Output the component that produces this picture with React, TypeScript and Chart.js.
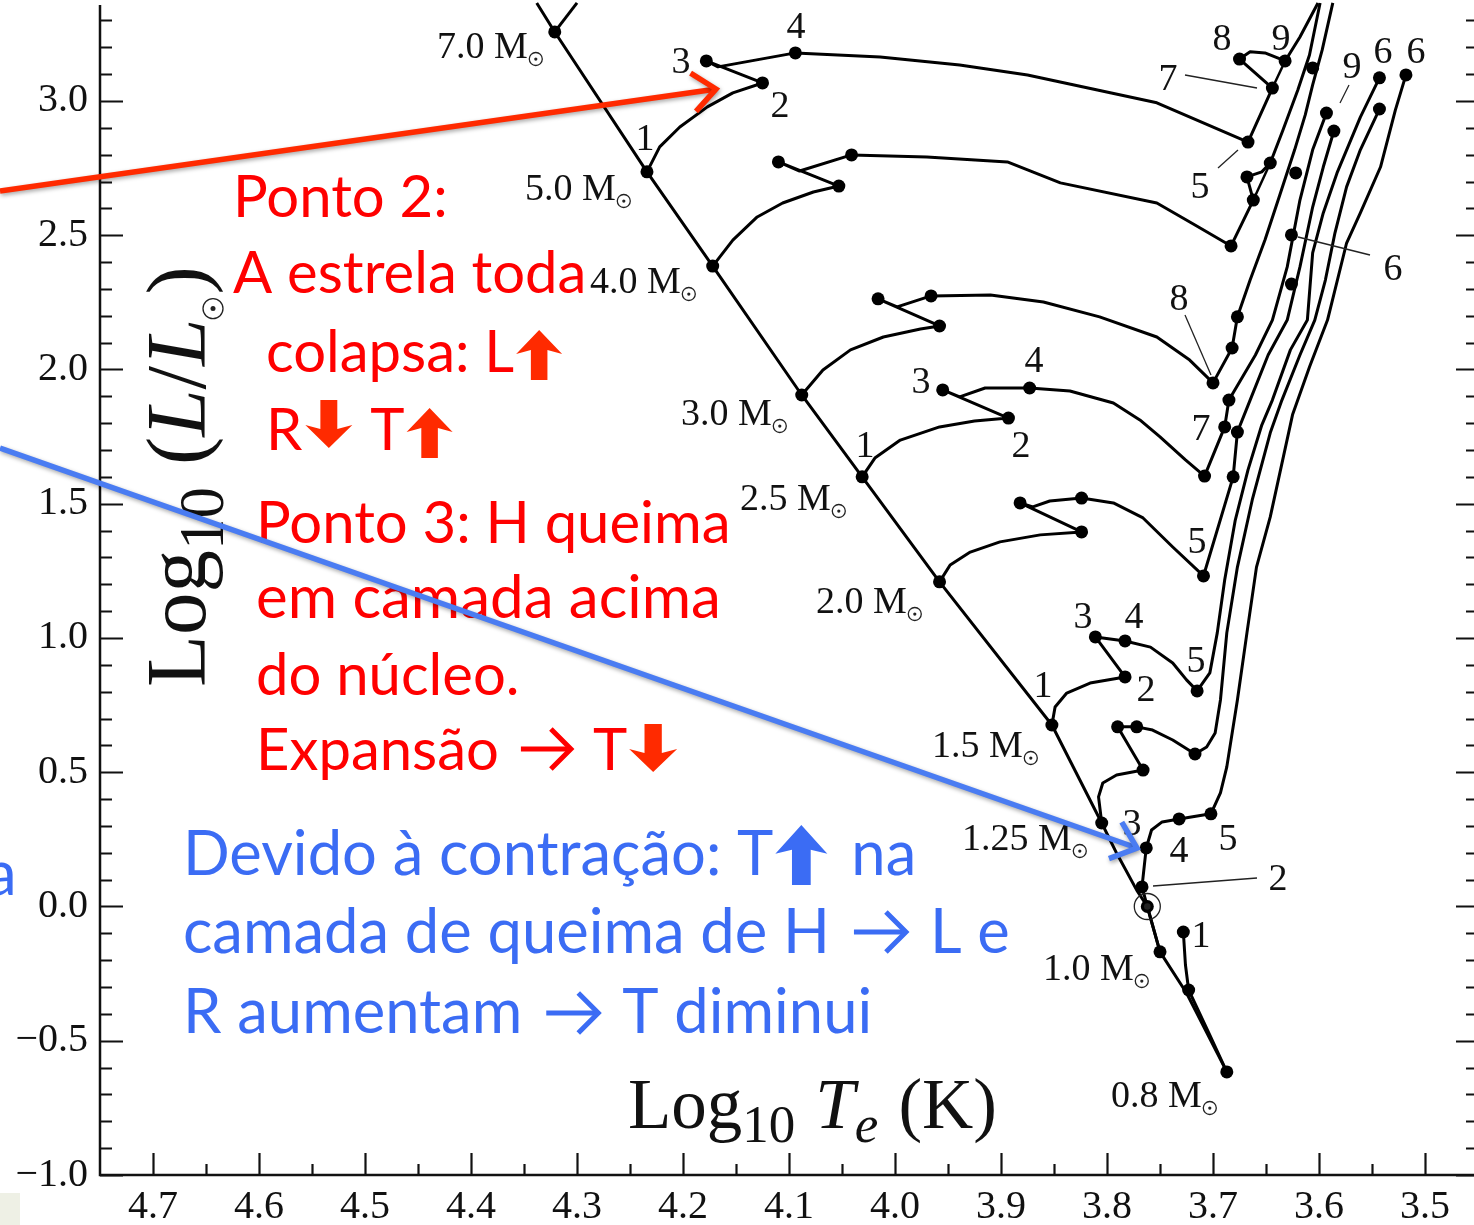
import React, { useEffect, useRef } from "react";
import { Chart, registerables } from "chart.js";

Chart.register(...registerables);

// ---------- axes ----------
const X_MIN = 3.4538;
const X_MAX = 4.75;
const Y_MIN = -1.0;
const Y_MAX = 3.376;
const X_TICKS = [3.5, 3.6, 3.7, 3.8, 3.9, 4.0, 4.1, 4.2, 4.3, 4.4, 4.5, 4.6, 4.7];
const Y_TICKS = [-1.0, -0.5, 0.0, 0.5, 1.0, 1.5, 2.0, 2.5, 3.0];

// ---------- evolutionary tracks (log Te, log L/Lsun) ----------
const zamsT = [4.338, 4.321, 4.234, 4.172, 4.088, 4.031, 3.958, 3.852, 3.805, 3.791, 3.772, 3.762, 3.750, 3.725, 3.687];
const zamsL = [3.365, 3.257, 2.736, 2.385, 1.905, 1.600, 1.209, 0.676, 0.311, 0.199, 0.061, 0.0, -0.169, -0.322, -0.616];

const m70T = [4.321, 4.300];
const m70L = [3.257, 3.365];

const m50T = [4.234, 4.222, 4.203, 4.177, 4.153, 4.125, 4.178, 4.167, 4.094, 4.014, 3.939, 3.875, 3.753, 3.667, 3.644, 3.675, 3.665, 3.651, 3.632, 3.618, 3.601];
const m50L = [2.736, 2.829, 2.903, 2.978, 3.030, 3.067, 3.149, 3.127, 3.179, 3.164, 3.134, 3.097, 2.993, 2.847, 3.048, 3.156, 3.183, 3.179, 3.149, 3.238, 3.365];

const m40T = [4.172, 4.153, 4.130, 4.106, 4.077, 4.053, 4.110, 4.090, 4.041, 3.970, 3.894, 3.844, 3.753, 3.717, 3.683, 3.662, 3.668, 3.654, 3.646, 3.634, 3.620, 3.609, 3.599];
const m40L = [2.385, 2.482, 2.568, 2.620, 2.661, 2.683, 2.773, 2.739, 2.799, 2.791, 2.773, 2.695, 2.620, 2.538, 2.460, 2.631, 2.717, 2.736, 2.769, 2.892, 3.041, 3.171, 3.365];

const m30T = [4.088, 4.068, 4.042, 4.011, 3.976, 3.958, 4.016, 3.998, 3.966, 3.910, 3.860, 3.807, 3.753, 3.722, 3.700, 3.682, 3.677, 3.665, 3.651, 3.637, 3.623, 3.613, 3.606, 3.597, 3.587];
const m30L = [1.905, 1.998, 2.073, 2.121, 2.151, 2.162, 2.263, 2.233, 2.274, 2.277, 2.251, 2.196, 2.121, 2.035, 1.950, 2.080, 2.196, 2.333, 2.482, 2.650, 2.818, 2.948, 3.060, 3.190, 3.365];

const m25T = [4.031, 4.019, 3.995, 3.958, 3.925, 3.893, 3.955, 3.939, 3.915, 3.873, 3.835, 3.794, 3.769, 3.750, 3.726, 3.708, 3.689, 3.685, 3.660, 3.644, 3.630, 3.618, 3.606, 3.593];
const m25L = [1.600, 1.670, 1.737, 1.786, 1.808, 1.819, 1.924, 1.898, 1.931, 1.931, 1.920, 1.875, 1.812, 1.749, 1.663, 1.603, 1.786, 1.886, 2.054, 2.184, 2.382, 2.631, 2.818, 2.955];

const m20T = [3.958, 3.948, 3.929, 3.901, 3.863, 3.824, 3.882, 3.870, 3.854, 3.824, 3.794, 3.766, 3.738, 3.709, 3.681, 3.677, 3.665, 3.648, 3.630, 3.618, 3.606, 3.596, 3.586];
const m20L = [1.209, 1.272, 1.320, 1.358, 1.384, 1.395, 1.503, 1.488, 1.510, 1.521, 1.503, 1.447, 1.339, 1.231, 1.600, 1.767, 1.886, 2.054, 2.184, 2.382, 2.605, 2.754, 2.888];

const m15T = [3.852, 3.849, 3.838, 3.816, 3.783, 3.811, 3.783, 3.759, 3.738, 3.725, 3.715, 3.703, 3.696, 3.689, 3.679, 3.667, 3.654, 3.644, 3.627, 3.611, 3.606, 3.596, 3.583, 3.561, 3.543];
const m15L = [0.676, 0.743, 0.795, 0.832, 0.855, 1.004, 0.989, 0.966, 0.907, 0.844, 0.803, 0.870, 1.019, 1.216, 1.439, 1.626, 1.793, 1.886, 2.073, 2.184, 2.434, 2.583, 2.732, 2.940, 3.086];

const m125T = [3.805, 3.808, 3.804, 3.791, 3.766, 3.790, 3.772, 3.757, 3.738, 3.717, 3.706, 3.698, 3.693, 3.687, 3.677, 3.663, 3.646, 3.635, 3.618, 3.604, 3.594, 3.585, 3.574, 3.561, 3.543];
const m125L = [0.311, 0.408, 0.460, 0.490, 0.508, 0.669, 0.669, 0.657, 0.620, 0.568, 0.594, 0.646, 0.769, 1.019, 1.264, 1.514, 1.764, 1.886, 2.054, 2.184, 2.333, 2.508, 2.680, 2.818, 2.970];

const m10T = [3.750, 3.762, 3.767, 3.763, 3.758, 3.748, 3.732, 3.702, 3.693, 3.687, 3.677, 3.668, 3.659, 3.646, 3.625, 3.609, 3.592, 3.574, 3.561, 3.542, 3.528, 3.518];
const m10L = [-0.169, 0.0, 0.073, 0.218, 0.285, 0.315, 0.326, 0.345, 0.423, 0.520, 0.769, 1.019, 1.264, 1.451, 1.831, 2.009, 2.184, 2.471, 2.583, 2.754, 2.966, 3.097];

const m08T = [3.687, 3.703, 3.723, 3.726, 3.728];
const m08L = [-0.616, -0.479, -0.311, -0.218, -0.095];

const loop4T = [3.662, 3.646];
const loop4L = [2.631, 2.769];
const loop5T = [3.644, 3.632];
const loop5L = [3.048, 3.149];

// marked evolutionary points
const dotT = [
  4.321, 4.234, 4.172, 4.088, 4.031, 3.958, 3.852, 3.805, 3.750, 3.687,
  4.125, 4.178, 4.094, 3.667, 3.644, 3.675, 3.632,
  4.053, 4.110, 4.041, 3.683, 3.662, 3.668, 3.646,
  3.958, 4.016, 3.966, 3.700, 3.682, 3.677,
  3.893, 3.955, 3.873, 3.708, 3.689,
  3.824, 3.882, 3.824, 3.709, 3.681, 3.677,
  3.783, 3.811, 3.783, 3.715,
  3.766, 3.790, 3.772, 3.717,
  3.767, 3.763, 3.732, 3.702, 3.762,
  3.728, 3.723,
  3.518, 3.543, 3.543, 3.593, 3.586, 3.606, 3.622, 3.626, 3.626, 3.685,
];
const dotL = [
  3.257, 2.736, 2.385, 1.905, 1.600, 1.209, 0.676, 0.311, -0.169, -0.616,
  3.067, 3.149, 3.179, 2.847, 3.048, 3.156, 3.149,
  2.683, 2.773, 2.799, 2.460, 2.631, 2.717, 2.769,
  2.162, 2.263, 2.274, 1.950, 2.080, 2.196,
  1.819, 1.924, 1.931, 1.603, 1.786,
  1.395, 1.503, 1.521, 1.231, 1.600, 1.767,
  0.855, 1.004, 0.989, 0.803,
  0.508, 0.669, 0.669, 0.568,
  0.073, 0.218, 0.326, 0.345, 0.0,
  -0.095, -0.311,
  3.097, 3.086, 2.970, 2.955, 2.888, 3.123, 2.732, 2.501, 2.318, 1.886,
];

const sunT = [3.762];
const sunL = [0.0];

// ---------- annotation text ----------
const MASS_LABELS: [string, number, number][] = [
  ["7.0", 437, 58], ["5.0", 525, 200], ["4.0", 590, 293], ["3.0", 681, 425], ["2.5", 740, 510],
  ["2.0", 816, 613], ["1.5", 932, 757], ["1.25", 962, 850], ["1.0", 1043, 980], ["0.8", 1111, 1107],
];
const POINT_LABELS: [string, number, number][] = [
  ["4", 796, 38], ["3", 681, 73], ["2", 780, 117], ["1", 645, 150],
  ["7", 1168, 90], ["8", 1222, 50], ["9", 1281, 50], ["9", 1352, 78], ["6", 1383, 63], ["6", 1416, 63],
  ["5", 1200, 198], ["6", 1393, 280], ["8", 1179, 310],
  ["4", 1034, 372], ["3", 921, 393], ["7", 1201, 440], ["1", 865, 457], ["2", 1021, 457], ["5", 1197, 553],
  ["3", 1083, 628], ["4", 1134, 628], ["5", 1196, 672], ["1", 1043, 697], ["2", 1146, 701],
  ["3", 1132, 835], ["4", 1179, 862], ["5", 1228, 850], ["2", 1278, 890], ["1", 1201, 947],
];
const LEADERS: [number, number, number, number][] = [
  [1185, 75, 1257, 88], [1218, 168, 1238, 150], [1340, 103, 1349, 85],
  [1298, 237, 1370, 255], [1185, 315, 1211, 375], [1153, 886, 1257, 878],
];

const SERIF = '"Liberation Serif", "Times New Roman", serif';
const SANS = 'Lato, "Open Sans", sans-serif';
const RED = "#ff0000";
const RED_ARROW = "#ff2a00";
const BLUE = "#3b6cf4";

function pts(T: number[], L: number[]) {
  return T.map((t, i) => ({ x: t, y: L[i] }));
}

function lineDs(T: number[], L: number[], w = 3) {
  return {
    data: pts(T, L),
    showLine: true,
    borderColor: "#000",
    backgroundColor: "#000",
    borderWidth: w,
    pointRadius: 0,
    pointHoverRadius: 0,
    tension: 0,
    fill: false,
    borderJoinStyle: "round" as const,
  };
}

function sunSymbol(ctx: CanvasRenderingContext2D, cx: number, cy: number, r: number) {
  ctx.save();
  ctx.strokeStyle = "#222";
  ctx.fillStyle = "#222";
  ctx.lineWidth = 1.3;
  ctx.beginPath();
  ctx.arc(cx, cy, r, 0, Math.PI * 2);
  ctx.stroke();
  ctx.beginPath();
  ctx.arc(cx, cy, Math.max(1.4, r * 0.25), 0, Math.PI * 2);
  ctx.fill();
  ctx.restore();
}

function blockArrow(ctx: CanvasRenderingContext2D, x: number, bottom: number, w: number, h: number, up: boolean, color: string) {
  const head = h * 0.48;
  const sw = w * 0.36;
  const cx = x + w / 2;
  const top = bottom - h;
  ctx.save();
  ctx.fillStyle = color;
  ctx.beginPath();
  if (up) {
    ctx.moveTo(cx, top);
    ctx.lineTo(x + w, top + head);
    ctx.lineTo(cx + sw / 2, top + head - 4);
    ctx.lineTo(cx + sw / 2, bottom);
    ctx.lineTo(cx - sw / 2, bottom);
    ctx.lineTo(cx - sw / 2, top + head - 4);
    ctx.lineTo(x, top + head);
  } else {
    ctx.moveTo(cx, bottom);
    ctx.lineTo(x + w, bottom - head);
    ctx.lineTo(cx + sw / 2, bottom - head + 4);
    ctx.lineTo(cx + sw / 2, top);
    ctx.lineTo(cx - sw / 2, top);
    ctx.lineTo(cx - sw / 2, bottom - head + 4);
    ctx.lineTo(x, bottom - head);
  }
  ctx.closePath();
  ctx.fill();
  ctx.restore();
}

function thinArrow(ctx: CanvasRenderingContext2D, x: number, y: number, w: number, color: string) {
  ctx.save();
  ctx.strokeStyle = color;
  ctx.lineWidth = 5;
  ctx.lineCap = "butt";
  ctx.lineJoin = "miter";
  ctx.beginPath();
  ctx.moveTo(x, y);
  ctx.lineTo(x + w - 3, y);
  ctx.stroke();
  ctx.beginPath();
  ctx.moveTo(x + w - 20, y - 20);
  ctx.lineTo(x + w, y);
  ctx.lineTo(x + w - 20, y + 20);
  ctx.stroke();
  ctx.restore();
}

function lineArrow(ctx: CanvasRenderingContext2D, x1: number, y1: number, x2: number, y2: number, color: string) {
  const ang = Math.atan2(y2 - y1, x2 - x1);
  const hl = 30;
  const spread = 0.7;
  ctx.save();
  ctx.shadowColor = "rgba(0,0,0,0.35)";
  ctx.shadowBlur = 4;
  ctx.shadowOffsetX = 1;
  ctx.shadowOffsetY = 2;
  ctx.strokeStyle = color;
  ctx.lineWidth = 5.5;
  ctx.lineCap = "butt";
  ctx.lineJoin = "miter";
  ctx.beginPath();
  ctx.moveTo(x1, y1);
  ctx.lineTo(x2 - Math.cos(ang) * 3, y2 - Math.sin(ang) * 3);
  ctx.stroke();
  ctx.beginPath();
  ctx.moveTo(x2 - hl * Math.cos(ang - spread), y2 - hl * Math.sin(ang - spread));
  ctx.lineTo(x2, y2);
  ctx.lineTo(x2 - hl * Math.cos(ang + spread), y2 - hl * Math.sin(ang + spread));
  ctx.stroke();
  ctx.restore();
}

type Part = { t: string; font: string; dy?: number; gap?: number } | { sun: number; dy: number; gap?: number };

function richText(ctx: CanvasRenderingContext2D, parts: Part[], x: number, y: number) {
  let cx = x;
  for (const p of parts) {
    if ("sun" in p) {
      cx += p.gap || 0;
      sunSymbol(ctx, cx + p.sun, y + p.dy, p.sun);
      cx += p.sun * 2 + 4;
    } else {
      ctx.font = p.font;
      cx += p.gap || 0;
      ctx.fillText(p.t, cx, y + (p.dy || 0));
      cx += ctx.measureText(p.t).width;
    }
  }
  return cx;
}

const overlayPlugin = {
  id: "overlay",
  afterDatasetsDraw(chart: any) {
    const ctx: CanvasRenderingContext2D = chart.ctx;
    const a = chart.chartArea;
    const xs = chart.scales.x;
    const ys = chart.scales.y;
    ctx.save();

    // sun symbol on the track (through the scales)
    sunSymbol(ctx, xs.getPixelForValue(sunT[0]), ys.getPixelForValue(sunL[0]), 13);

    // axis frame and inward ticks
    ctx.strokeStyle = "#111";
    ctx.lineWidth = 2.5;
    ctx.beginPath();
    ctx.moveTo(a.left, 5);
    ctx.lineTo(a.left, a.bottom);
    ctx.lineTo(a.right, a.bottom);
    ctx.stroke();
    ctx.lineWidth = 2.2;
    for (let i = -10; i <= 33; i++) {
      const y = Math.round(ys.getPixelForValue(i / 10)) + 0.5;
      const major = i % 5 === 0;
      ctx.beginPath();
      ctx.moveTo(a.left, y);
      ctx.lineTo(a.left + (major ? 23 : 12), y);
      ctx.moveTo(a.right, y);
      ctx.lineTo(a.right - (major ? 18 : 8), y);
      ctx.stroke();
    }
    for (let i = 70; i <= 94; i++) {
      const x = Math.round(xs.getPixelForValue(i / 20)) + 0.5;
      const major = i % 2 === 0;
      ctx.beginPath();
      ctx.moveTo(x, a.bottom);
      ctx.lineTo(x, a.bottom - (major ? 22 : 11));
      ctx.stroke();
    }

    // leader lines
    ctx.lineWidth = 1.3;
    ctx.strokeStyle = "#222";
    for (const [x1, y1, x2, y2] of LEADERS) {
      ctx.beginPath();
      ctx.moveTo(x1, y1);
      ctx.lineTo(x2, y2);
      ctx.stroke();
    }

    // point numbers
    ctx.fillStyle = "#111";
    ctx.textBaseline = "alphabetic";
    ctx.textAlign = "center";
    ctx.font = `38px ${SERIF}`;
    for (const [t, x, y] of POINT_LABELS) ctx.fillText(t, x, y);

    // mass labels
    ctx.textAlign = "left";
    for (const [m, x, y] of MASS_LABELS) {
      ctx.font = `38px ${SERIF}`;
      const s = `${m} M`;
      ctx.fillText(s, x, y);
      const w = ctx.measureText(s).width;
      sunSymbol(ctx, x + w + 8, y + 1, 6.5);
    }

    // x-axis title
    ctx.fillStyle = "#111";
    richText(ctx, [
      { t: "Log", font: `71px ${SERIF}` },
      { t: "10", font: `53px ${SERIF}`, dy: 14 },
      { t: "T", font: `italic 71px ${SERIF}`, gap: 20 },
      { t: "e", font: `italic 53px ${SERIF}`, dy: 14 },
      { t: "(K)", font: `71px ${SERIF}`, gap: 20 },
    ], 628, 1128);

    // y-axis title (rotated)
    ctx.save();
    ctx.translate(205, 687);
    ctx.rotate(-Math.PI / 2);
    richText(ctx, [
      { t: "Log", font: `85px ${SERIF}` },
      { t: "10", font: `63px ${SERIF}`, dy: 18 },
      { t: "(", font: `85px ${SERIF}`, gap: 22 },
      { t: "L", font: `italic 85px ${SERIF}` },
      { t: "/", font: `85px ${SERIF}` },
      { t: "L", font: `italic 85px ${SERIF}` },
      { sun: 10, dy: 8 },
      { t: ")", font: `85px ${SERIF}` },
    ], 0, 0);
    ctx.restore();

    // red annotation
    const F = `58px ${SANS}`;
    const FB = `60px ${SANS}`;
    const FL = `61.5px ${SANS}`;
    ctx.fillStyle = RED;
    ctx.font = F;
    ctx.fillText("Ponto 2:", 233, 217);
    ctx.fillText("A estrela toda", 233, 293);
    let e = richText(ctx, [{ t: "colapsa: L", font: F }], 266, 372);
    blockArrow(ctx, e + 2, 380, 46, 50, true, RED_ARROW);
    e = richText(ctx, [{ t: "R", font: F }], 266, 450);
    blockArrow(ctx, e + 3, 448, 47, 48, false, RED_ARROW);
    ctx.fillStyle = RED;
    e = richText(ctx, [{ t: "T", font: F }], e + 3 + 47 + 18, 450);
    blockArrow(ctx, e + 2, 458, 46, 50, true, RED_ARROW);
    ctx.fillStyle = RED;
    ctx.font = F;
    ctx.fillText("Ponto 3: H queima", 256, 543);
    ctx.font = FB;
    ctx.fillText("em camada acima", 256, 618);
    ctx.font = F;
    ctx.fillText("do núcleo.", 256, 695);
    e = richText(ctx, [{ t: "Expansão", font: F }], 256, 770);
    thinArrow(ctx, e + 22, 749, 50, RED);
    ctx.fillStyle = RED;
    e = richText(ctx, [{ t: "T", font: F }], e + 94, 770);
    blockArrow(ctx, e + 2, 772, 48, 48, false, RED_ARROW);

    // blue annotation
    ctx.fillStyle = BLUE;
    e = richText(ctx, [{ t: "Devido à contração: T", font: FL }], 183, 875);
    blockArrow(ctx, e + 2, 885, 52, 60, true, BLUE);
    ctx.fillStyle = BLUE;
    richText(ctx, [{ t: "na", font: FL }], e + 78, 875);
    e = richText(ctx, [{ t: "camada de queima de H", font: FL }], 183, 953);
    thinArrow(ctx, e + 24, 932, 52, BLUE);
    ctx.fillStyle = BLUE;
    richText(ctx, [{ t: "L e", font: FL }], e + 100, 953);
    e = richText(ctx, [{ t: "R aumentam", font: FL }], 183, 1033);
    thinArrow(ctx, e + 24, 1013, 52, BLUE);
    ctx.fillStyle = BLUE;
    richText(ctx, [{ t: "T diminui", font: FL }], e + 100, 1033);
    ctx.fillText("a", -14, 895);

    // pointer arrows
    lineArrow(ctx, 0, 191, 716, 89, RED_ARROW);
    lineArrow(ctx, 0, 448, 1137, 848, "#4a7cf2");

    // corner patch
    ctx.fillStyle = "#eef0e5";
    ctx.fillRect(0, 1193, 20, 32);

    ctx.restore();
  },
};

export default function App() {
  const ref = useRef<HTMLCanvasElement>(null);
  useEffect(() => {
    document.body.style.margin = "0";
    document.body.style.overflow = "hidden";
    const canvas = ref.current!;
    const datasets: any[] = [
      lineDs(zamsT, zamsL),
      lineDs(m70T, m70L),
      lineDs(m50T, m50L),
      lineDs(m40T, m40L),
      lineDs(m30T, m30L),
      lineDs(m25T, m25L),
      lineDs(m20T, m20L),
      lineDs(m15T, m15L),
      lineDs(m125T, m125L),
      lineDs(m10T, m10L),
      lineDs(m08T, m08L),
      lineDs(loop4T, loop4L, 2.5),
      lineDs(loop5T, loop5L, 2.5),
      {
        data: pts(dotT, dotL),
        showLine: false,
        pointRadius: 6.5,
        pointHoverRadius: 6.5,
        pointBackgroundColor: "#000",
        pointBorderWidth: 0,
        borderColor: "#000",
      },
    ];
    const chart = new Chart(canvas, {
      type: "scatter",
      data: { datasets },
      options: {
        animation: false,
        responsive: false,
        devicePixelRatio: 1,
        events: [],
        layout: { padding: 0, autoPadding: false },
        plugins: { legend: { display: false }, tooltip: { enabled: false } },
        scales: {
          x: {
            type: "linear",
            position: "bottom",
            min: X_MIN,
            max: X_MAX,
            reverse: true,
            grid: { display: false, drawTicks: false },
            border: { display: false },
            afterBuildTicks: (s: any) => {
              s.ticks = X_TICKS.map((v) => ({ value: v }));
            },
            afterFit: (s: any) => {
              s.height = 50;
              s.paddingLeft = 0;
              s.paddingRight = 0;
              s.paddingTop = 0;
              s.paddingBottom = 0;
            },
            ticks: {
              autoSkip: false,
              maxRotation: 0,
              padding: 8,
              color: "#111",
              font: { family: SERIF, size: 40 },
              callback: (v: any) => Number(v).toFixed(1),
            },
          },
          y: {
            type: "linear",
            min: Y_MIN,
            max: Y_MAX,
            grid: { display: false, drawTicks: false },
            border: { display: false },
            afterBuildTicks: (s: any) => {
              s.ticks = Y_TICKS.map((v) => ({ value: v }));
            },
            afterFit: (s: any) => {
              s.width = 100;
              s.paddingLeft = 0;
              s.paddingRight = 0;
              s.paddingTop = 0;
              s.paddingBottom = 0;
            },
            ticks: {
              autoSkip: false,
              padding: 12,
              color: "#111",
              font: { family: SERIF, size: 40 },
              callback: (v: any) => (Number(v) < 0 ? "\u2212" : "") + Math.abs(Number(v)).toFixed(1),
            },
          },
        },
      },
      plugins: [overlayPlugin],
    } as any);
    return () => chart.destroy();
  }, []);
  return (
    <div style={{ width: 1474, height: 1225, position: "relative", background: "#fff" }}>
      <canvas ref={ref} width={1474} height={1225} style={{ display: "block" }} />
    </div>
  );
}
